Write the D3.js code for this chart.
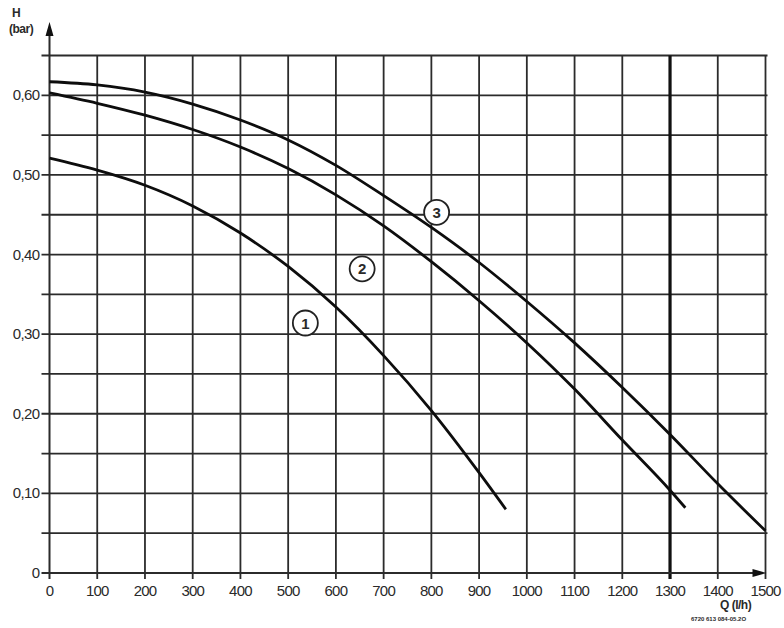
<!DOCTYPE html>
<html>
<head>
<meta charset="utf-8">
<script src="https://cdn.jsdelivr.net/npm/d3@7"></script>
<style>
  html, body { margin: 0; padding: 0; background: #fff; }
  text { font-family: "Liberation Sans", Arial, sans-serif; fill: #2a2a2a; }
</style>
</head>
<body>
<div id="chart"></div>
<script>
// pump curves H (bar) over Q (l/h)
const curve1Q = [0, 100, 200, 300, 400, 500, 600, 700, 800, 900, 956];
const curve1H = [0.521, 0.506, 0.487, 0.461, 0.427, 0.385, 0.334, 0.273, 0.204, 0.126, 0.080];

const curve2Q = [0, 100, 200, 300, 400, 500, 600, 700, 800, 900, 1000, 1100, 1200, 1300, 1332];
const curve2H = [0.603, 0.590, 0.575, 0.557, 0.535, 0.508, 0.475, 0.436, 0.391, 0.342, 0.289, 0.231, 0.167, 0.104, 0.082];

const curve3Q = [0, 100, 200, 300, 400, 500, 600, 700, 800, 900, 1000, 1100, 1200, 1300, 1400, 1500];
const curve3H = [0.617, 0.613, 0.604, 0.589, 0.569, 0.544, 0.512, 0.474, 0.434, 0.390, 0.341, 0.289, 0.233, 0.174, 0.112, 0.053];

const curveNames = ['1', '2', '3'];
const labelQ = [536, 655, 811];
const labelH = [0.314, 0.382, 0.453];

const xTicks = d3.range(0, 1501, 100);
const yTicks = [0, 0.10, 0.20, 0.30, 0.40, 0.50, 0.60];
const yGrid = d3.range(0.05, 0.651, 0.05);

const width = 784, height = 628;

const svg = d3.select('#chart').append('svg')
    .attr('width', width)
    .attr('height', height);

const x = d3.scaleLinear().domain([0, 1500]).range([49.5, 765.5]);
const y = d3.scaleLinear().domain([0, 0.65]).range([573, 55.5]);

const ink = '#2b2b2b';

// grid
svg.append('g')
    .selectAll('line')
    .data(yGrid)
    .enter().append('line')
    .attr('x1', x(0) - 8)
    .attr('x2', x(1500) + 2)
    .attr('y1', d => y(d))
    .attr('y2', d => y(d))
    .attr('stroke', ink)
    .attr('stroke-width', 1.8);

svg.append('g')
    .selectAll('line')
    .data(xTicks.filter(d => d > 0))
    .enter().append('line')
    .attr('x1', d => x(d))
    .attr('x2', d => x(d))
    .attr('y1', y(0.65))
    .attr('y2', y(0) + 6)
    .attr('stroke', d => d === 1300 ? '#111' : ink)
    .attr('stroke-width', d => d === 1300 ? 3.2 : 1.8);

// axes
svg.append('line')
    .attr('x1', x(0)).attr('x2', x(0))
    .attr('y1', y(0) + 6).attr('y2', 30)
    .attr('stroke', ink).attr('stroke-width', 2);
svg.append('path')
    .attr('d', `M${x(0)},22 L${x(0) - 4},36 L${x(0) + 4},36 Z`)
    .attr('fill', '#111');

svg.append('line')
    .attr('x1', x(0) - 8).attr('x2', x(1500) - 8)
    .attr('y1', y(0)).attr('y2', y(0))
    .attr('stroke', ink).attr('stroke-width', 2);
svg.append('path')
    .attr('d', `M${x(1500) + 1},${y(0)} L${x(1500) - 13},${y(0) - 4} L${x(1500) - 13},${y(0) + 4} Z`)
    .attr('fill', '#111');

// tick labels
const fmtY = d => d === 0 ? '0' : d3.format('.2f')(d).replace('.', ',');

svg.append('g')
    .selectAll('text')
    .data(yTicks)
    .enter().append('text')
    .attr('x', x(0) - 10)
    .attr('y', d => y(d) + 5)
    .attr('text-anchor', 'end')
    .attr('font-size', 15)
    .attr('letter-spacing', -0.6)
    .text(fmtY);

svg.append('g')
    .selectAll('text')
    .data(xTicks)
    .enter().append('text')
    .attr('x', d => x(d))
    .attr('y', 596)
    .attr('text-anchor', 'middle')
    .attr('font-size', 15)
    .attr('letter-spacing', -0.8)
    .text(d => d);

// axis titles
svg.append('text').attr('x', 12).attr('y', 17)
    .attr('font-size', 12).attr('font-weight', 'bold').text('H');
svg.append('text').attr('x', 9).attr('y', 33)
    .attr('font-size', 12).attr('font-weight', 'bold').attr('letter-spacing', -0.5).text('(bar)');
svg.append('text').attr('x', 720).attr('y', 609)
    .attr('font-size', 12).attr('font-weight', 'bold').attr('letter-spacing', -0.5).text('Q (l/h)');
svg.append('text').attr('x', 691).attr('y', 621)
    .attr('font-size', 6).attr('font-weight', 'bold').text('6720 613 084-05.2O');

// curves
const line = d3.line()
    .x(d => x(d[0]))
    .y(d => y(d[1]))
    .curve(d3.curveMonotoneX);

const series = [
    d3.zip(curve1Q, curve1H),
    d3.zip(curve2Q, curve2H),
    d3.zip(curve3Q, curve3H)
];

svg.append('g')
    .selectAll('path')
    .data(series)
    .enter().append('path')
    .attr('d', line)
    .attr('fill', 'none')
    .attr('stroke', '#0d0d0d')
    .attr('stroke-width', 2.8)
    .attr('stroke-linecap', 'butt');

// curve labels
const lg = svg.append('g')
    .selectAll('g')
    .data(curveNames)
    .enter().append('g')
    .attr('transform', (d, i) => 'translate(' + x(labelQ[i]) + ',' + y(labelH[i]) + ')');

lg.append('circle')
    .attr('r', 12.5)
    .attr('fill', '#fff')
    .attr('stroke', '#222')
    .attr('stroke-width', 1.8);

lg.append('text')
    .attr('y', 5.5)
    .attr('text-anchor', 'middle')
    .attr('font-size', 15)
    .attr('font-weight', 'bold')
    .text(d => d);
</script>
</body>
</html>
